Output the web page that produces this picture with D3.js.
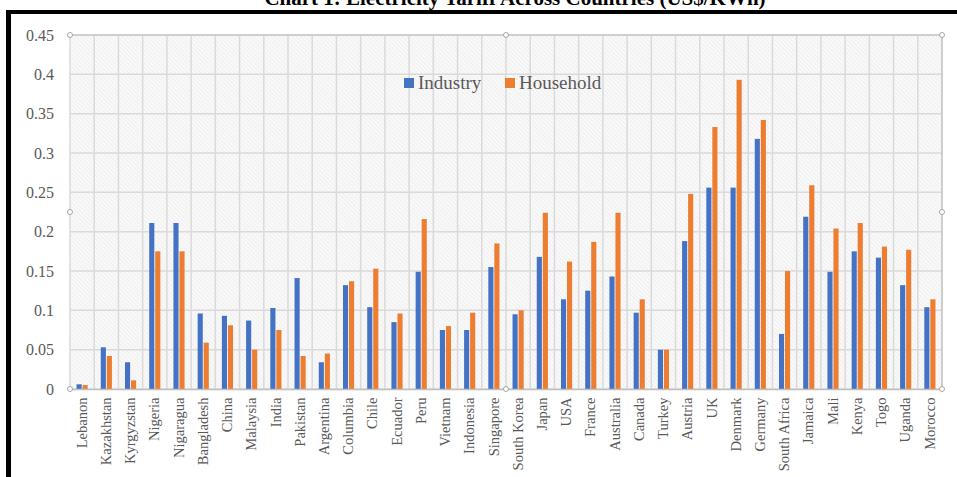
<!DOCTYPE html>
<html>
<head>
<meta charset="utf-8">
<script src="https://cdn.jsdelivr.net/npm/d3@7"></script>
<style>
    html, body { margin: 0; padding: 0; background: #fff; }
    svg { display: block; }
    .tick text { fill: #595959; }
</style>
</head>
<body>
<svg id="chart"></svg>
<script>
// categories and series
const countries = ["Lebanon", "Kazakhstan", "Kyrgyzstan", "Nigeria", "Nigaragua", "Bangladesh", "China",
    "Malaysia", "India", "Pakistan", "Argentina", "Columbia", "Chile", "Ecuador", "Peru", "Vietnam",
    "Indonesia", "Singapore", "South Korea", "Japan", "USA", "France", "Australia", "Canada", "Turkey",
    "Austria", "UK", "Denmark", "Germany", "South Africa", "Jamaica", "Mali", "Kenya", "Togo", "Uganda", "Morocco"];
const industry = [0.006, 0.053, 0.034, 0.211, 0.211, 0.096, 0.093, 0.087, 0.103, 0.141, 0.034, 0.132,
    0.104, 0.085, 0.149, 0.075, 0.075, 0.155, 0.095, 0.168, 0.114, 0.125, 0.143, 0.097, 0.050,
    0.188, 0.256, 0.256, 0.318, 0.070, 0.219, 0.149, 0.175, 0.167, 0.132, 0.104];
const household = [0.005, 0.042, 0.011, 0.175, 0.175, 0.059, 0.081, 0.050, 0.075, 0.042, 0.045, 0.137,
    0.153, 0.096, 0.216, 0.080, 0.097, 0.185, 0.100, 0.224, 0.162, 0.187, 0.224, 0.114, 0.050,
    0.248, 0.333, 0.393, 0.342, 0.150, 0.259, 0.204, 0.211, 0.181, 0.177, 0.114];
const seriesNames = ["Industry", "Household"];
const seriesColors = ["#4472C4", "#ED7D31"];
const yTicks = [0, 0.05, 0.1, 0.15, 0.2, 0.25, 0.3, 0.35, 0.4, 0.45];

const width = 957, height = 477;
const plot = { left: 70, right: 942, top: 35, bottom: 389 };
const serif = "'Liberation Serif', 'Times New Roman', serif";
const gridColor = "#dadada";

const svg = d3.select("#chart")
    .attr("width", width)
    .attr("height", height);

// hatched fill for the plot area
const defs = svg.append("defs");
const pat = defs.append("pattern")
    .attr("id", "hatch")
    .attr("patternUnits", "userSpaceOnUse")
    .attr("width", 3)
    .attr("height", 3)
    .attr("patternTransform", "rotate(-45)");
pat.append("rect").attr("width", 3).attr("height", 3).attr("fill", "#f9f9f9");
pat.append("line")
    .attr("x1", 0).attr("y1", 0).attr("x2", 0).attr("y2", 3)
    .attr("stroke", "#e6e6e6").attr("stroke-width", 1);

// scales
const x = d3.scaleBand().domain(countries).range([plot.left, plot.right]).padding(0);
const bw = x.bandwidth();
const groupW = bw * 0.46;
const x1 = d3.scaleBand().domain(seriesNames)
    .range([(bw - groupW) / 2, (bw + groupW) / 2])
    .paddingInner(0.15);
const y = d3.scaleLinear().domain([0, 0.45]).range([plot.bottom, plot.top]);

// frame of the page (black lines at top and left)
svg.append("line").attr("x1", 6).attr("x2", width).attr("y1", 12).attr("y2", 12)
    .attr("stroke", "#000").attr("stroke-width", 4);
svg.append("line").attr("x1", 8.5).attr("x2", 8.5).attr("y1", 10).attr("y2", height)
    .attr("stroke", "#000").attr("stroke-width", 5);

// title, mostly cut off by the top edge as in the source
svg.append("text")
    .attr("x", 515)
    .attr("y", 5)
    .attr("text-anchor", "middle")
    .style("font-family", serif)
    .style("font-weight", "bold")
    .style("font-size", "21px")
    .attr("fill", "#000")
    .text("Chart 1: Electricity Tariff Across Countries (US$/KWh)");

// plot background
svg.append("rect")
    .attr("x", plot.left).attr("y", plot.top)
    .attr("width", plot.right - plot.left).attr("height", plot.bottom - plot.top)
    .attr("fill", "url(#hatch)");

// gridlines
svg.append("g")
    .selectAll("line")
    .data(yTicks)
    .enter().append("line")
    .attr("x1", plot.left).attr("x2", plot.right)
    .attr("y1", d => y(d)).attr("y2", d => y(d))
    .attr("stroke", gridColor).attr("stroke-width", 1.5);

svg.append("g")
    .selectAll("line")
    .data(countries)
    .enter().append("line")
    .attr("x1", d => x(d)).attr("x2", d => x(d))
    .attr("y1", plot.top).attr("y2", plot.bottom)
    .attr("stroke", gridColor).attr("stroke-width", 1.5);

// right and top edges of plot area
svg.append("line")
    .attr("x1", plot.right).attr("x2", plot.right)
    .attr("y1", plot.top).attr("y2", plot.bottom)
    .attr("stroke", "#bfbfbf").attr("stroke-width", 1.5);
svg.append("line")
    .attr("x1", plot.left).attr("x2", plot.right)
    .attr("y1", plot.top).attr("y2", plot.top)
    .attr("stroke", "#c8c8c8").attr("stroke-width", 1.5);

// bars
const rows = countries.map((c, i) => ({ country: c, values: [industry[i], household[i]] }));
svg.append("g")
    .selectAll("g")
    .data(rows)
    .enter().append("g")
    .attr("transform", d => `translate(${x(d.country)},0)`)
    .selectAll("rect")
    .data(d => d.values.map((v, k) => ({ key: seriesNames[k], value: v, color: seriesColors[k] })))
    .enter().append("rect")
    .attr("x", d => x1(d.key))
    .attr("width", x1.bandwidth())
    .attr("y", d => y(d.value))
    .attr("height", d => y(0) - y(d.value))
    .attr("fill", d => d.color);

// y axis
const yAxis = svg.append("g")
    .attr("transform", `translate(${plot.left},0)`)
    .call(d3.axisLeft(y).tickValues(yTicks).tickSize(0).tickPadding(16).tickFormat(d3.format("")));
yAxis.select(".domain").remove();
yAxis.selectAll("text")
    .style("font-family", serif)
    .style("font-size", "16px");

// x axis
const xAxis = svg.append("g")
    .attr("transform", `translate(0,${plot.bottom})`)
    .call(d3.axisBottom(x).tickSize(0));
xAxis.select(".domain").attr("stroke", "#bfbfbf").attr("stroke-width", 1.5);
xAxis.selectAll("text")
    .attr("transform", "rotate(-90)")
    .attr("x", -8.5)
    .attr("y", 0)
    .attr("dy", "0.32em")
    .style("text-anchor", "end")
    .style("font-family", serif)
    .style("font-size", "14.5px");

// selection handles on the plot area
const handles = [
    [plot.left, plot.top], [(plot.left + plot.right) / 2, plot.top], [plot.right, plot.top],
    [plot.left, (plot.top + plot.bottom) / 2], [plot.right, (plot.top + plot.bottom) / 2],
    [plot.left, plot.bottom], [(plot.left + plot.right) / 2, plot.bottom], [plot.right, plot.bottom]
];
svg.append("g")
    .selectAll("circle")
    .data(handles)
    .enter().append("circle")
    .attr("cx", d => d[0]).attr("cy", d => d[1])
    .attr("r", 2.5)
    .attr("fill", "#fff")
    .attr("stroke", "#a6a6a6")
    .attr("stroke-width", 1);

// legend
const legend = svg.append("g").attr("transform", "translate(404,78)");
const legendX = [0, 101];
seriesNames.forEach((name, i) => {
    const item = legend.append("g").attr("transform", `translate(${legendX[i]},0)`);
    item.append("rect")
        .attr("width", 10).attr("height", 10)
        .attr("fill", seriesColors[i]);
    item.append("text")
        .attr("x", 14)
        .attr("y", 11)
        .style("font-family", serif)
        .style("font-size", "19px")
        .attr("fill", "#595959")
        .text(name);
});
</script>
</body>
</html>
